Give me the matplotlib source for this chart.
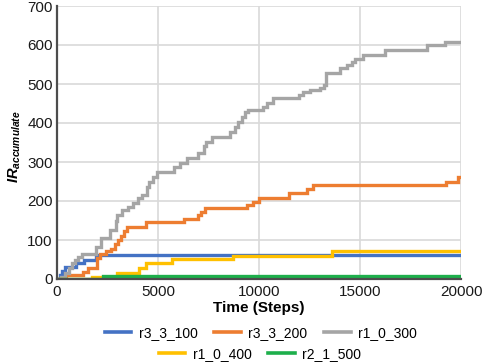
import matplotlib
matplotlib.use("Agg")
import matplotlib.pyplot as plt
from matplotlib.lines import Line2D

plt.rcParams['font.family'] = ['Liberation Sans', 'DejaVu Sans']
plt.rcParams['mathtext.fontset'] = 'custom'
plt.rcParams['mathtext.it'] = 'Liberation Sans:italic:bold'
plt.rcParams['mathtext.rm'] = 'Liberation Sans:bold'

# ---- data (step series: breakpoints x, value from that x on) ----
blue_x = [0, 150, 250, 400, 950, 1350, 1950, 20000]
blue_y = [0, 10, 20, 31, 40, 48, 62, 62]

orange_x = [0, 450, 1300, 1550, 2000, 2150, 2450, 2650, 2850, 3000, 3150, 3300, 3450,
            4400, 6300, 7000, 7150, 7350, 9400, 9700, 10000, 11500, 12400, 12650,
            19250, 19850, 20000]
orange_y = [0, 10, 18, 28, 55, 65, 72, 78, 90, 100, 110, 122, 133,
            145, 155, 164, 172, 181, 190, 198, 207, 220, 230, 241,
            250, 261, 261]

gray_x = [0, 200, 400, 600, 750, 900, 1050, 1250, 1950, 2200, 2600, 2900, 2950, 3200,
          3500, 3750, 4000, 4200, 4450, 4550, 4750, 4950, 5800, 6100, 6450, 7000,
          7300, 7400, 7650, 8550, 8800, 8950, 9150, 9300, 9450, 10200, 10400, 10700,
          12000, 12200, 12500, 13000, 13200, 13300, 14000, 14350, 14600, 14750,
          15150, 16250, 18300, 19200, 20000]
gray_y = [0, 5, 15, 28, 40, 50, 57, 65, 82, 105, 125, 150, 165, 178,
          185, 195, 207, 215, 236, 250, 262, 275, 288, 297, 310, 322,
          340, 352, 365, 378, 390, 403, 415, 428, 433, 441, 451, 464,
          472, 480, 485, 490, 497, 528, 540, 549, 557, 565,
          574, 587, 600, 608, 608]

yellow_x = [0, 1750, 2950, 4050, 4400, 5700, 8700, 13600, 20000]
yellow_y = [0, 6, 16, 28, 40, 52, 60, 72, 72]

green_x = [0, 2300, 20000]
green_y = [0, 8, 8]

labels = ['r3_3_100', 'r3_3_200', 'r1_0_300', 'r1_0_400', 'r2_1_500']
colors = ['#4472C4', '#ED7D31', '#A5A5A5', '#FFC000', '#1DAF4B']
xs = [blue_x, orange_x, gray_x, yellow_x, green_x]
ys = [blue_y, orange_y, gray_y, yellow_y, green_y]

fig = plt.figure(figsize=(4.84, 3.63), dpi=100)
ax = fig.add_axes([57/484, 1 - 279/363, (461-57)/484, (279-6)/363])

for x, y, c, l in zip(xs, ys, colors, labels):
    ax.step(x, y, where='post', color=c, lw=2.4, label=l, solid_joinstyle='miter')

ax.set_xlim(0, 20000)
ax.set_ylim(0, 700)
ax.set_xticks([0, 5000, 10000, 15000, 20000])
ax.set_yticks(range(0, 701, 100))
ax.grid(True, color='#D9D9D9', lw=1.2)
ax.set_axisbelow(True)
for s in ['top', 'right']:
    ax.spines[s].set_visible(False)
for s in ['left', 'bottom']:
    ax.spines[s].set_color('#4D4D4D')
    ax.spines[s].set_linewidth(1.6)
ax.tick_params(length=0, labelsize=11, pad=3, colors='#1A1A1A')
ax.tick_params(axis='x', pad=4)

ax.set_xlabel('Time (Steps)', fontsize=11, fontweight='bold', labelpad=2)
fig.text(15/484, 1 - 147/363, r'$IR_{accumulate}$', rotation=90, fontsize=10.5,
         ha='center', va='center')

handles = [Line2D([], [], color=c, lw=2.6) for c in colors]
leg1 = fig.legend(handles[:3], labels[:3], loc='center', ncol=3,
                  bbox_to_anchor=(261/484, 1 - 333/363), frameon=False,
                  fontsize=10, handlelength=1.9, handletextpad=0.55,
                  columnspacing=1.2, borderpad=0)
fig.legend(handles[3:], labels[3:], loc='center', ncol=2,
           bbox_to_anchor=(260/484, 1 - 354/363), frameon=False,
           fontsize=10, handlelength=1.9, handletextpad=0.55,
           columnspacing=1.2, borderpad=0)

fig.savefig('out.png', dpi=100)
